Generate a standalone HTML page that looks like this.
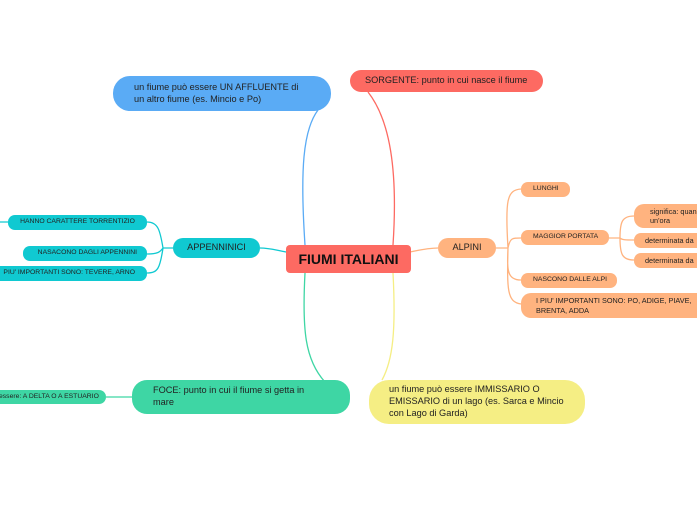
<!DOCTYPE html>
<html><head><meta charset="utf-8"><style>
body{margin:0;width:697px;height:520px;background:#fff;position:relative;overflow:hidden;font-family:"Liberation Sans","DejaVu Sans",sans-serif;}
.n{position:absolute;box-sizing:border-box;color:#222;display:flex;align-items:center;line-height:1.3;white-space:nowrap;}
svg{position:absolute;left:0;top:0}
</style></head><body>
<svg width="697" height="520" fill="none" stroke-width="1.3">
<path d="M305 245 C300 170,303 130,318 110" stroke="#5aabf5"/>
<path d="M393 245 C398 170,390 120,368 92" stroke="#fd6a62"/>
<path d="M305 273 C302 330,305 360,325 382" stroke="#3ed6a4"/>
<path d="M393 273 C396 330,393 360,382 380" stroke="#f5ee84"/>
<path d="M286 252 C275 250,270 248,260 248" stroke="#10c9d1"/>
<path d="M410 252 C420 250,428 248,438 248" stroke="#ffb37f"/>
<path d="M173 248 L163 248 M163 248 C160 230,158 222,147 222 M163 248 C160 252,158 254,147 254 M163 248 C160 268,158 273,147 273 M8 222 L0 222" stroke="#10c9d1"/>
<path d="M496 248 L508 248 M508 248 C505 200,507 190,521 189 M508 248 C510 238,512 238,521 238 M508 248 C507 270,507 280,521 280 M508 248 C507 290,507 302,521 304" stroke="#ffb37f"/>
<path d="M609 238 L620 238 M620 238 C620 222,622 216,634 216 M620 238 C622 240,626 240,634 240 M620 238 C620 254,622 260,634 260" stroke="#ffb37f"/>
<path d="M132 397 L106 397" stroke="#3ed6a4"/>
</svg>
<div class="n" style="left:286px;top:245px;width:125px;height:28px;background:#fd6a62;border-radius:4px;justify-content:center;font-weight:bold;font-size:14px;color:#111">FIUMI ITALIANI</div>
<div class="n" style="left:350px;top:70px;width:193px;height:22px;background:#fd6a62;border-radius:11px;padding-left:15px;font-size:9.2px">SORGENTE: punto in cui nasce il fiume</div>
<div class="n" style="left:113px;top:76px;width:218px;height:35px;background:#5aabf5;border-radius:17px;padding-left:21px;font-size:9.2px">un fiume può essere UN AFFLUENTE di<br>un altro fiume (es. Mincio e Po)</div>
<div class="n" style="left:173px;top:238px;width:87px;height:20px;background:#10c9d1;border-radius:10px;justify-content:center;font-size:9.2px">APPENNINICI</div>
<div class="n" style="left:8px;top:215px;width:139px;height:15px;background:#10c9d1;border-radius:7px;justify-content:center;font-size:6.8px">HANNO CARATTERE TORRENTIZIO</div>
<div class="n" style="left:23px;top:246px;width:124px;height:15px;background:#10c9d1;border-radius:7px;justify-content:flex-end;padding-right:10px;font-size:6.8px">NASACONO DAGLI APPENNINI</div>
<div class="n" style="left:-10px;top:266px;width:157px;height:15px;background:#10c9d1;border-radius:7px;justify-content:flex-end;padding-right:12px;font-size:6.8px">PIU' IMPORTANTI SONO: TEVERE, ARNO</div>
<div class="n" style="left:438px;top:238px;width:58px;height:20px;background:#ffb37f;border-radius:10px;justify-content:center;font-size:9.2px">ALPINI</div>
<div class="n" style="left:521px;top:182px;width:49px;height:15px;background:#ffb37f;border-radius:7px;padding-left:12px;font-size:6.8px">LUNGHI</div>
<div class="n" style="left:521px;top:230px;width:88px;height:15px;background:#ffb37f;border-radius:7px;padding-left:12px;font-size:6.8px">MAGGIOR PORTATA</div>
<div class="n" style="left:634px;top:204px;width:80px;height:24px;background:#ffb37f;border-radius:10px;padding-left:16px;font-size:7.3px">significa: quan<br>un'ora</div>
<div class="n" style="left:634px;top:233px;width:80px;height:15px;background:#ffb37f;border-radius:7px;padding-left:11px;font-size:7.3px">determinata da</div>
<div class="n" style="left:634px;top:253px;width:80px;height:15px;background:#ffb37f;border-radius:7px;padding-left:11px;font-size:7.3px">determinata da</div>
<div class="n" style="left:521px;top:273px;width:96px;height:15px;background:#ffb37f;border-radius:7px;padding-left:12px;font-size:6.8px">NASCONO DALLE ALPI</div>
<div class="n" style="left:521px;top:293px;width:190px;height:25px;background:#ffb37f;border-radius:10px;padding-left:15px;font-size:7.3px">I PIU' IMPORTANTI SONO: PO, ADIGE, PIAVE,<br>BRENTA, ADDA</div>
<div class="n" style="left:132px;top:380px;width:218px;height:34px;background:#3ed6a4;border-radius:15px;padding-left:21px;font-size:9.2px">FOCE: punto in cui il fiume si getta in<br>mare</div>
<div class="n" style="left:-20px;top:390px;width:126px;height:14px;background:#3ed6a4;border-radius:7px;padding-left:19px;font-size:6.8px">essere: A DELTA O A ESTUARIO</div>
<div class="n" style="left:369px;top:380px;width:216px;height:44px;background:#f5ee84;border-radius:20px;padding-left:20px;font-size:9.2px">un fiume può essere IMMISSARIO O<br>EMISSARIO di un lago (es. Sarca e Mincio<br>con Lago di Garda)</div>
</body></html>
